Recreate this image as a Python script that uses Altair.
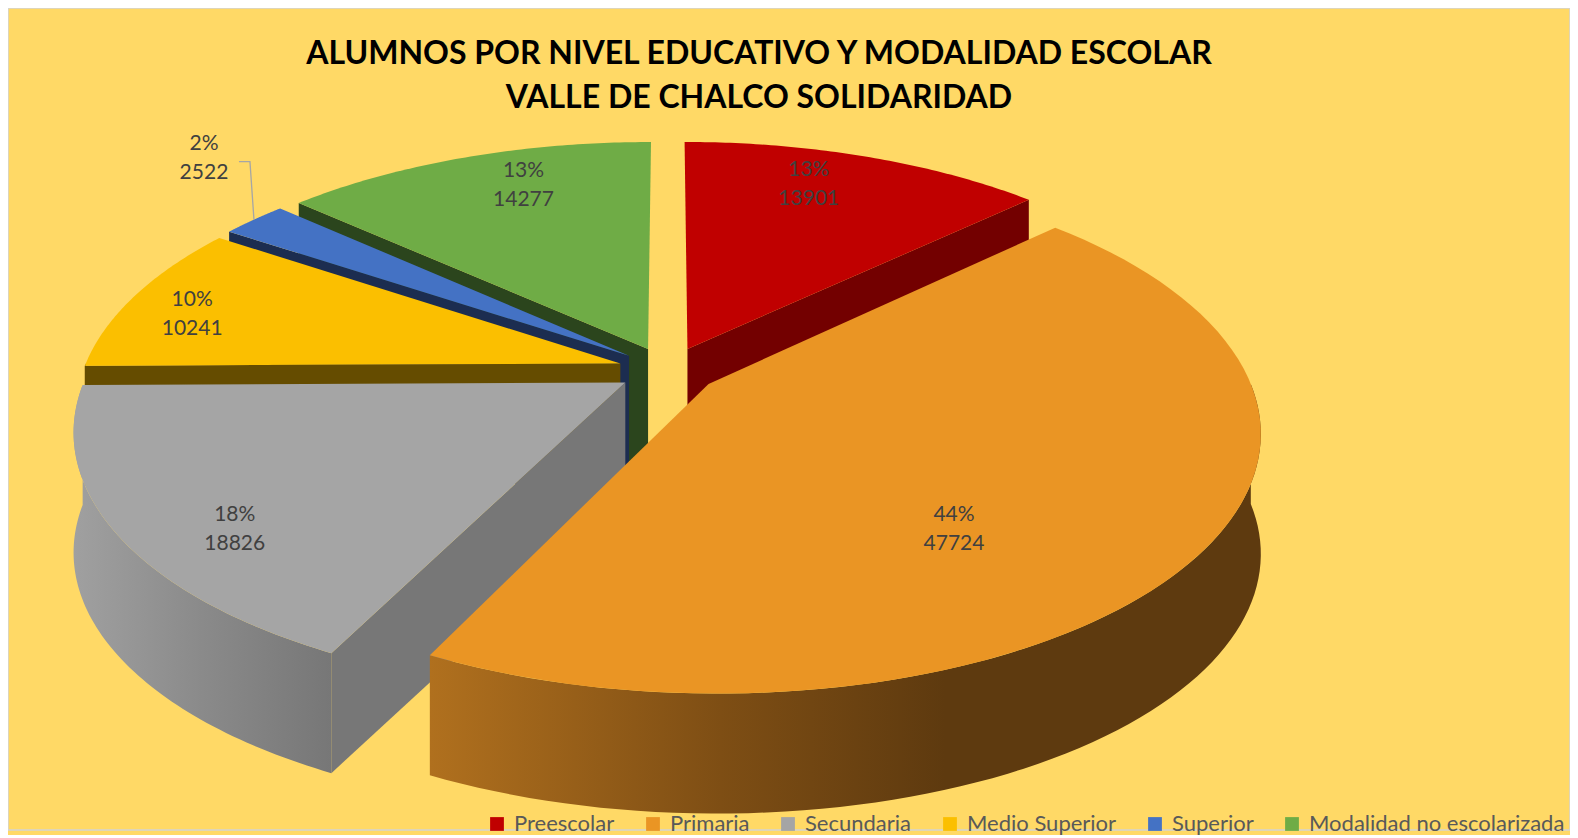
import altair as alt
import pandas as pd

# ---------------- data ----------------
names = ["Preescolar", "Primaria", "Secundaria", "Medio Superior", "Superior",
         "Modalidad no escolarizada"]
values = [13901, 47724, 18826, 10241, 2522, 14277]

# ---------------- styles ----------------
top_colors = ["#C00000", "#EA9524", "#A5A5A5", "#FBBF00", "#4472C4", "#6FAC46"]
face_colors = {"Preescolar": "#730000", "Primaria": "#7A4A10", "Secundaria": "#777777",
               "Medio Superior": "#654C00", "Superior": "#1C2D50",
               "Modalidad no escolarizada": "#2B451D"}
wall_gradients = {
    "Primaria": [("#B0701E", 0.0), ("#7E4E14", 0.35), ("#5E3A0F", 0.62), ("#5E3A0F", 1.0)],
    "Secundaria": [("#A0A0A0", 0.0), ("#8A8A8A", 0.5), ("#777777", 1.0)],
}
# draw order of the side walls (back to front)
wall_order = ["Preescolar", "Modalidad no escolarizada", "Superior", "Medio Superior",
              "Secundaria", "Primaria"]

W, HGT = 1562, 822
CX, CY = 660, 362        # projected centre of the pie
RX, RY = 537, 250        # projected radii
P = 0.175                # perspective strength
E = 0.093                # explosion (fraction of radius)
DEPTH = 120              # wall height in px
N = 72                   # points per arc
FONT = "Lato"

df = pd.DataFrame({"name": names, "value": values, "idx": list(range(len(names)))})


def px_expr(h="0"):
    return {
        "px": f"{CX} + {RX} * datum.X / (1 - {P} * datum.Z)",
        "py": f"{CY} + {RY} * datum.Z / (1 - {P} * datum.Z) + ({h})",
    }


xenc = alt.X("px:Q", scale=alt.Scale(domain=[0, W], nice=False, zero=False), axis=None)
yenc = alt.Y("py:Q", scale=alt.Scale(domain=[0, HGT], nice=False, zero=False, reverse=True),
             axis=None)

base = (
    alt.Chart(df)
    .transform_joinaggregate(total="sum(value)")
    .transform_window(cum="sum(value)", sort=[alt.SortField("idx")], frame=[None, 0])
    .transform_calculate(a0="2 * PI * (datum.cum - datum.value) / datum.total")
    .transform_calculate(a1="2 * PI * datum.cum / datum.total")
    .transform_calculate(am="(datum.a0 + datum.a1) / 2")
    .transform_calculate(share="datum.value / datum.total")
    .transform_calculate(ox=f"{E} * sin(datum.am)")
    .transform_calculate(oz=f"-{E} * cos(datum.am)")
)

layers = []

# ---------- radial faces and outer walls ----------
for nm in wall_order:
    face = (
        base.transform_filter(alt.datum.name == nm)
        .transform_calculate(
            fa="sin(datum.a0) < -0.000001 ? datum.a0 : (sin(datum.a1) > 0.000001 ? datum.a1 : -1)")
        .transform_filter("datum.fa >= 0")
        .transform_calculate(k="sequence(0, 4)")
        .transform_flatten(["k"])
        .transform_calculate(r="(datum.k == 1 || datum.k == 2) ? 1 : 0")
        .transform_calculate(h=f"datum.k >= 2 ? {DEPTH} : 0")
        .transform_calculate(X="datum.ox + datum.r * sin(datum.fa)")
        .transform_calculate(Z="datum.oz - datum.r * cos(datum.fa)")
        .transform_calculate(**px_expr("datum.h"))
        .mark_line(filled=True, color=face_colors[nm], strokeWidth=0)
        .encode(x=xenc, y=yenc, order="k:Q")
    )
    layers.append(face)
    if nm in wall_gradients:
        color = alt.Gradient(
            gradient="linear",
            stops=[alt.GradientStop(color=c, offset=o) for c, o in wall_gradients[nm]],
            x1=0, x2=1, y1=0, y2=0,
        )
    else:
        color = face_colors[nm]
    wall = (
        base.transform_filter(alt.datum.name == nm)
        .transform_calculate(wa="max(datum.a0, PI / 2)")
        .transform_calculate(wb="min(datum.a1, 3 * PI / 2)")
        .transform_filter("datum.wb > datum.wa")
        .transform_calculate(k=f"sequence(0, {2 * N + 2})")
        .transform_flatten(["k"])
        .transform_calculate(j=f"datum.k <= {N} ? datum.k : {2 * N + 1} - datum.k")
        .transform_calculate(h=f"datum.k <= {N} ? 0 : {DEPTH}")
        .transform_calculate(th=f"datum.wa + (datum.wb - datum.wa) * datum.j / {N}")
        .transform_calculate(X="datum.ox + sin(datum.th)")
        .transform_calculate(Z="datum.oz - cos(datum.th)")
        .transform_calculate(**px_expr("datum.h"))
        .mark_line(filled=True, color=color, strokeWidth=0)
        .encode(x=xenc, y=yenc, order="k:Q")
    )
    layers.append(wall)

# ---------- top faces ----------
tops = (
    base.transform_calculate(k=f"sequence(0, {N + 2})")
    .transform_flatten(["k"])
    .transform_calculate(r="datum.k == 0 ? 0 : 1")
    .transform_calculate(th=f"datum.a0 + (datum.a1 - datum.a0) * max(datum.k - 1, 0) / {N}")
    .transform_calculate(X="datum.ox + datum.r * sin(datum.th)")
    .transform_calculate(Z="datum.oz - datum.r * cos(datum.th)")
    .transform_calculate(**px_expr())
    .mark_line(filled=True, strokeWidth=0)
    .encode(
        x=xenc, y=yenc, order="k:Q",
        color=alt.Color(
            "name:N",
            scale=alt.Scale(domain=names, range=top_colors),
            legend=alt.Legend(
                orient="none", legendX=478, legendY=805, direction="horizontal",
                columns=6, title=None, symbolType="square", symbolSize=190,
                symbolStrokeWidth=0, symbolOpacity=1, labelFont=FONT, labelFontSize=22,
                labelColor="#595959", columnPadding=27, labelOffset=6, labelLimit=0,
            ),
        ),
    )
)
layers.append(tops)

# ---------- data labels ----------
# "best fit" style placement: horizontal reach depends on slice orientation and size
inside_labels = (
    base.transform_filter("datum.share >= 0.05")
    .transform_calculate(rlx="0.68 + 0.3 * abs(sin(datum.am)) - 0.93 * datum.share")
    .transform_calculate(rly="0.97 - 0.4 * datum.share")
    .transform_calculate(X="datum.ox + datum.rlx * sin(datum.am)")
    .transform_calculate(Z="datum.oz - datum.rly * cos(datum.am)")
    .transform_calculate(**px_expr())
    .transform_calculate(lab="[format(datum.share, '.0%'), format(datum.value, 'd')]")
    .mark_text(font=FONT, fontSize=21, color="#404040", lineHeight=29,
               align="center", baseline="middle")
    .encode(x=xenc, y=yenc, text="lab:N")
)
layers.append(inside_labels)

outside_labels = (
    base.transform_filter("datum.share < 0.05")
    .transform_calculate(X="datum.ox + sin(datum.am)")
    .transform_calculate(Z="datum.oz - cos(datum.am)")
    .transform_calculate(**px_expr())
    .transform_calculate(lab="[format(datum.share, '.0%'), format(datum.value, 'd')]")
    .mark_text(font=FONT, fontSize=21, color="#404040", lineHeight=29,
               align="center", baseline="middle", dx=-50, dy=-76)
    .encode(x=xenc, y=yenc, text="lab:N")
)
layers.append(outside_labels)

leader = (
    base.transform_filter("datum.share < 0.05")
    .transform_calculate(k="sequence(0, 3)")
    .transform_flatten(["k"])
    .transform_calculate(X="datum.ox + sin(datum.am)")
    .transform_calculate(Z="datum.oz - cos(datum.am)")
    .transform_calculate(
        px0=f"{CX} + {RX} * datum.X / (1 - {P} * datum.Z)",
        py0=f"{CY} + {RY} * datum.Z / (1 - {P} * datum.Z)",
    )
    .transform_calculate(px="datum.px0 + (datum.k == 0 ? 0 : (datum.k == 1 ? -4 : -15))")
    .transform_calculate(py="datum.py0 + (datum.k == 0 ? 0 : -58)")
    .mark_line(color="#A6A6A6", strokeWidth=1.3)
    .encode(x=xenc, y=yenc, order="k:Q")
)
layers.append(leader)

# ---------- title ----------
title = (
    alt.Chart(pd.DataFrame({"t": [0]}))
    .mark_text(
        text=["ALUMNOS POR NIVEL EDUCATIVO Y MODALIDAD ESCOLAR", "VALLE DE CHALCO SOLIDARIDAD"],
        font=FONT, fontWeight="bold", fontSize=32, color="#000000", lineHeight=44,
        align="center", baseline="middle",
    )
    .encode(x=alt.value(751), y=alt.value(46))
)
layers.append(title)

chart = (
    alt.layer(*layers)
    .properties(width=W, height=HGT, padding=0, background="#FFD966")
    .configure_view(stroke="#D4D4D4", strokeWidth=1.5)
)

chart.save("out.html", embed_options={"renderer": "svg", "actions": False})
